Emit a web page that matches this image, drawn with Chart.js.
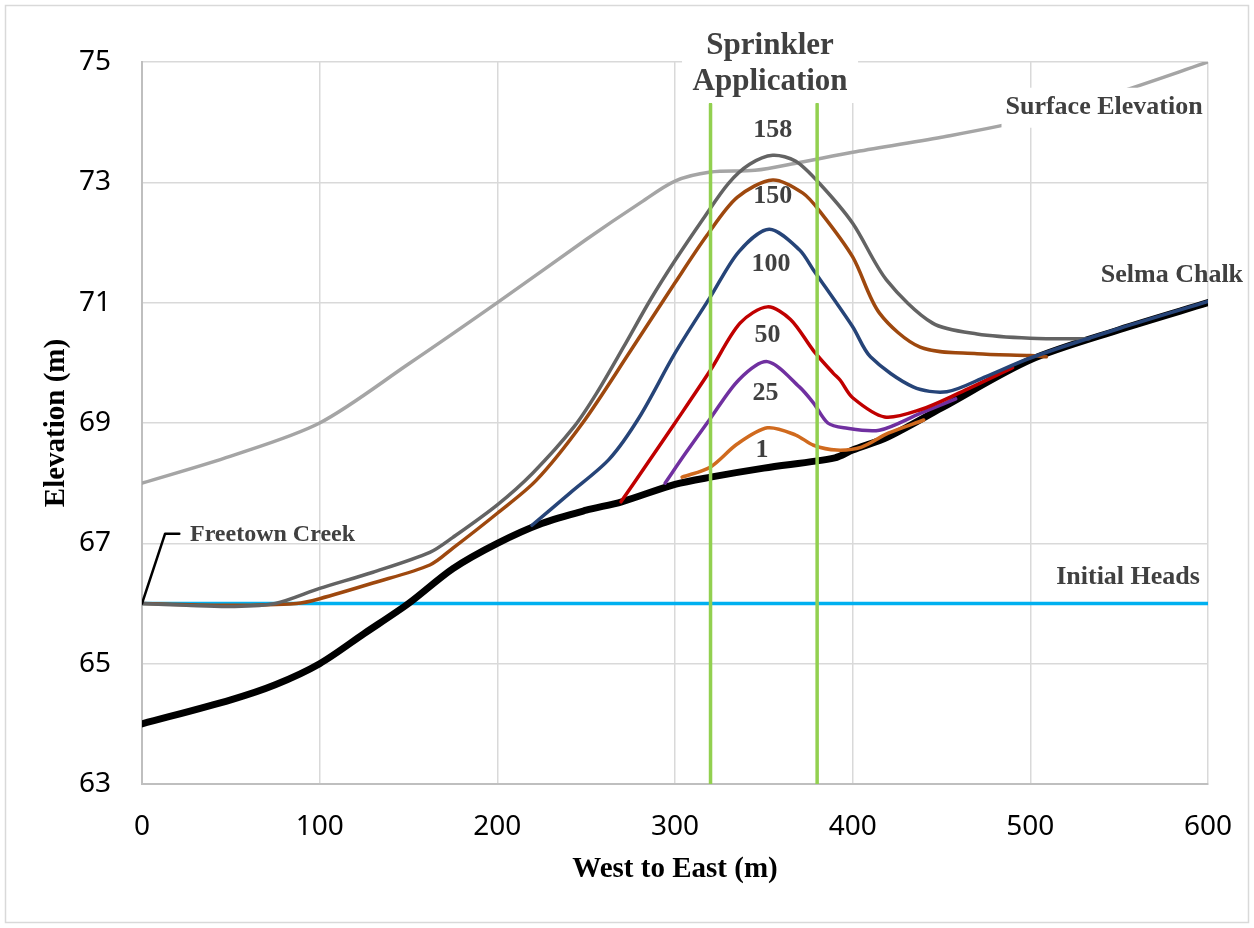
<!DOCTYPE html>
<html>
<head>
<meta charset="utf-8">
<script src="https://cdn.jsdelivr.net/npm/chart.js@4"></script>
<style>
  body { margin: 0; background: #fff; }
  canvas { display: block; }
</style>
</head>
<body>
<canvas id="chart" width="1254" height="928"></canvas>
<script>
// axis ticks
const xTicks = [0, 100, 200, 300, 400, 500, 600];
const yTicks = [63, 65, 67, 69, 71, 73, 75];

// ground surface
const surfaceX = [0, 50, 100, 150, 200, 250, 280, 300, 320, 345, 370, 400, 450, 500, 550, 600];
const surfaceY = [68.0, 68.45, 69.0, 69.98, 71.0, 72.05, 72.65, 73.02, 73.17, 73.2, 73.33, 73.5, 73.75, 74.05, 74.5, 75.0];

// Selma Chalk contact
const selmaX = [0, 50, 75, 100, 125, 150, 175, 200, 225, 250, 270, 300, 320, 350, 390, 400, 420, 450, 500, 550, 600];
const selmaY = [64.0, 64.4, 64.65, 65.0, 65.5, 66.0, 66.58, 67.0, 67.33, 67.55, 67.69, 67.98, 68.1, 68.25, 68.42, 68.55, 68.77, 69.25, 70.05, 70.55, 71.0];

// initial heads
const initX = [0, 600];
const initY = [66, 66];

// heads after n days
const day158X = [0, 25, 50, 75, 100, 130, 162, 175, 200, 220, 243, 256, 271, 286, 300, 316, 330, 342, 355, 368, 382, 400, 419, 445, 470, 500, 533];
const day158Y = [66.0, 65.97, 65.95, 66.0, 66.25, 66.52, 66.85, 67.1, 67.64, 68.17, 68.93, 69.5, 70.26, 71.04, 71.7, 72.4, 72.98, 73.3, 73.45, 73.35, 72.96, 72.32, 71.38, 70.66, 70.48, 70.41, 70.4];

const day150X = [0, 50, 87, 100, 130, 162, 175, 200, 222, 248, 275, 300, 318, 335, 355, 372, 382, 400, 415, 438, 470, 500, 509];
const day150Y = [66.0, 65.97, 66.0, 66.08, 66.34, 66.64, 66.92, 67.5, 68.05, 69.0, 70.2, 71.33, 72.12, 72.75, 73.04, 72.82, 72.5, 71.76, 70.83, 70.26, 70.15, 70.12, 70.1];

const day100X = [219.5, 241, 263, 280, 300, 320, 336, 353, 370, 378, 400, 410, 434, 453, 475, 500, 550, 600];
const day100Y = [67.3, 67.84, 68.4, 69.1, 70.16, 71.1, 71.85, 72.22, 71.88, 71.54, 70.6, 70.1, 69.6, 69.52, 69.77, 70.08, 70.57, 71.02];

const day50X = [269.6, 285, 300, 320, 336.6, 352, 365, 378, 389, 393, 400, 418, 438, 460, 490];
const day50Y = [67.69, 68.35, 69.0, 69.88, 70.66, 70.93, 70.72, 70.2, 69.83, 69.71, 69.42, 69.1, 69.22, 69.5, 69.92];

const day25X = [294.4, 306, 320, 336, 352, 370, 378, 386, 395, 415, 438, 458];
const day25Y = [68.0, 68.5, 69.08, 69.72, 70.02, 69.6, 69.33, 69.0, 68.92, 68.88, 69.16, 69.4];

const day1X = [304, 320, 335, 352, 368, 378, 391, 405, 420, 440];
const day1Y = [68.1, 68.27, 68.65, 68.92, 68.8, 68.63, 68.55, 68.6, 68.83, 69.05];

// sprinkler strip edges
const sprinklerX = [320, 380];
const sprinklerY = [63, 74.3];

// Freetown Creek leader line
const creekX = [0, 13, 21];
const creekY = [66, 67.16, 67.16];

// curve labels (days)
const dayLabels = ["158", "150", "100", "50", "25", "1"];
const dayLabelX = [355, 355, 354, 352, 351, 349];
const dayLabelY = [73.87, 72.76, 71.64, 70.45, 69.5, 68.55];

function pts(xs, ys) {
  return xs.map((x, i) => ({ x: x, y: ys[i] }));
}

function line(label, xs, ys, color, width, order, smooth) {
  return {
    label: label,
    data: pts(xs, ys),
    showLine: true,
    borderColor: color,
    backgroundColor: color,
    borderWidth: width,
    pointRadius: 0,
    fill: false,
    order: order,
    tension: smooth ? 0.3 : 0,
    borderCapStyle: "round",
    borderJoinStyle: "round"
  };
}

const textColor = "#404040";
const serif = "'Liberation Serif', 'Times New Roman', serif";

const notes = [
  { text: "Surface Elevation", x: 541.5, y: 74.24, size: 26, align: "center", box: true },
  { text: "Selma Chalk", x: 579.7, y: 71.46, size: 26, align: "center", box: false },
  { text: "Initial Heads", x: 555, y: 66.44, size: 26, align: "center", box: false },
  { text: "Freetown Creek", x: 27, y: 67.14, size: 24, align: "left", box: false }
];

const labelPlugin = {
  id: "labels",
  beforeDraw(chart) {
    const ctx = chart.ctx;
    ctx.save();
    ctx.fillStyle = "#fff";
    ctx.fillRect(0, 0, chart.width, chart.height);
    ctx.strokeStyle = "#d9d9d9";
    ctx.lineWidth = 1.5;
    ctx.strokeRect(5.5, 5.5, 1243, 917);
    ctx.restore();
  },
  afterDatasetsDraw(chart) {
    const ctx = chart.ctx;
    const xs = chart.scales.x, ys = chart.scales.y;
    ctx.save();
    ctx.textBaseline = "middle";

    // sprinkler title with white box
    const cx = xs.getPixelForValue(353.5);
    ctx.fillStyle = "#fff";
    ctx.fillRect(cx - 88, 28, 176, 75);
    ctx.fillStyle = textColor;
    ctx.font = "bold 31px " + serif;
    ctx.textAlign = "center";
    ctx.fillText("Sprinkler", cx, ys.getPixelForValue(75.27));
    ctx.fillText("Application", cx, ys.getPixelForValue(74.67));

    ctx.font = "bold 26px " + serif;
    dayLabels.forEach((t, i) => {
      ctx.fillText(t, xs.getPixelForValue(dayLabelX[i]), ys.getPixelForValue(dayLabelY[i]));
    });

    notes.forEach(n => {
      ctx.font = "bold " + n.size + "px " + serif;
      ctx.textAlign = n.align;
      const px = xs.getPixelForValue(n.x), py = ys.getPixelForValue(n.y);
      if (n.box) {
        const w = ctx.measureText(n.text).width;
        const left = n.align === "center" ? px - w / 2 : px;
        ctx.fillStyle = "#fff";
        ctx.fillRect(left - 4, py - 20, w + 8, 40);
      }
      ctx.fillStyle = textColor;
      ctx.fillText(n.text, px, py);
    });
    ctx.restore();
  }
};

new Chart(document.getElementById("chart"), {
  type: "scatter",
  data: {
    datasets: [
      line("West edge", [sprinklerX[0], sprinklerX[0]], sprinklerY, "#92d050", 3.5, 0, false),
      line("East edge", [sprinklerX[1], sprinklerX[1]], sprinklerY, "#92d050", 3.5, 0, false),
      line("Freetown Creek", creekX, creekY, "#000000", 2.5, 1, false),
      line("100", day100X, day100Y, "#264478", 3.5, 2, true),
      line("158", day158X, day158Y, "#636363", 3.5, 3, true),
      line("150", day150X, day150Y, "#9e480e", 3.5, 4, true),
      line("50", day50X, day50Y, "#c00000", 3.5, 5, true),
      line("25", day25X, day25Y, "#7030a0", 3.5, 6, true),
      line("1", day1X, day1Y, "#d06a1e", 3.5, 7, true),
      line("Selma Chalk", selmaX, selmaY, "#000000", 7, 8, true),
      line("Surface Elevation", surfaceX, surfaceY, "#a5a5a5", 3.5, 9, true),
      line("Initial Heads", initX, initY, "#00b0f0", 3.5, 10, false)
    ]
  },
  options: {
    responsive: false,
    animation: false,
    devicePixelRatio: 1,
    layout: { padding: { left: 0, top: 62, right: 46, bottom: 0 } },
    plugins: {
      legend: { display: false },
      tooltip: { enabled: false }
    },
    scales: {
      x: {
        type: "linear",
        min: 0,
        max: 600,
        afterFit(scale) {
          scale.height = 144;
          scale.paddingLeft = 0;
          scale.paddingRight = 0;
        },
        afterBuildTicks(scale) { scale.ticks = xTicks.map(v => ({ value: v })); },
        grid: { color: "#d9d9d9", lineWidth: 1.5, drawTicks: false },
        border: { color: "#bfbfbf", width: 2 },
        ticks: { padding: 26, color: "#000", font: { family: "'Noto Sans', sans-serif", size: 28 } },
        title: {
          display: true,
          text: "West to East (m)",
          color: "#000",
          font: { family: serif, size: 29, weight: "bold" },
          padding: { top: 0, bottom: 41 }
        }
      },
      y: {
        type: "linear",
        min: 63,
        max: 75,
        afterFit(scale) { scale.width = 142; },
        afterBuildTicks(scale) { scale.ticks = yTicks.map(v => ({ value: v })); },
        grid: { color: "#d9d9d9", lineWidth: 1.5, drawTicks: false },
        border: { color: "#bfbfbf", width: 2 },
        ticks: { padding: 31, color: "#000", font: { family: "'Noto Sans', sans-serif", size: 28 } },
        title: {
          display: true,
          text: "Elevation (m)",
          color: "#000",
          font: { family: serif, size: 29, weight: "bold" },
          padding: { top: 39, bottom: 0 }
        }
      }
    }
  },
  plugins: [labelPlugin]
});
</script>
</body>
</html>
